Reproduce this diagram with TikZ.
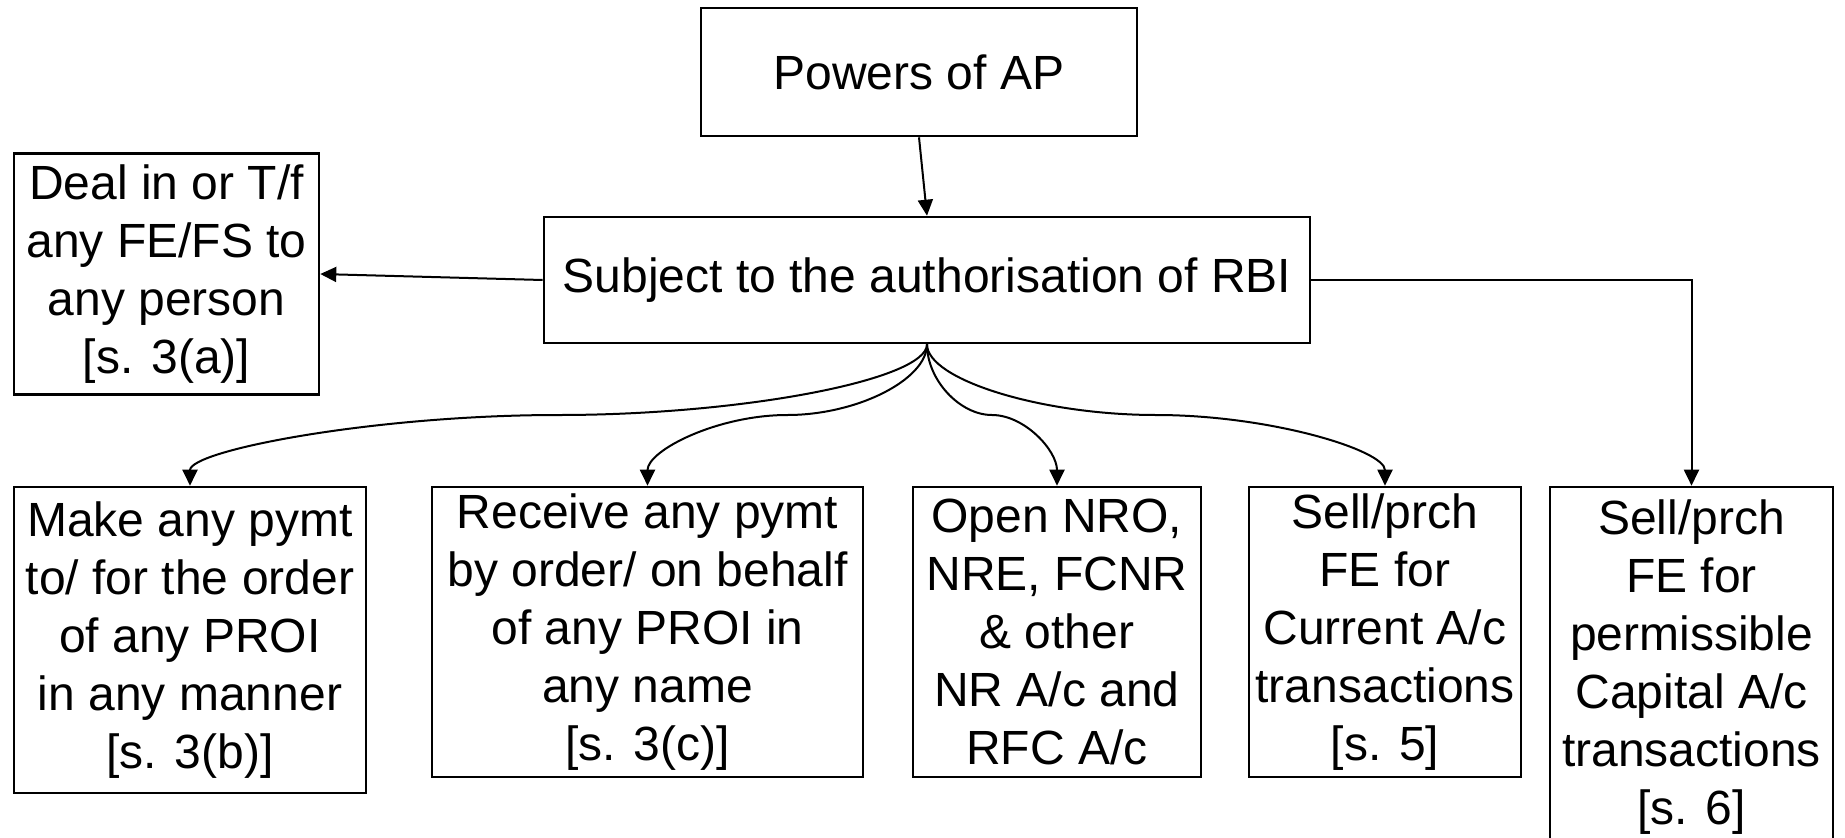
\documentclass[tikz,border=0pt]{standalone}
\usepackage{fontspec}
\setmainfont{Liberation Sans}
\usetikzlibrary{arrows.meta,calc}
\tikzset{
  box/.style={draw=black, line width=2.6pt, fill=white, align=center, inner sep=0pt,
    font=\fontsize{48}{58}\selectfont},
  arr/.style={line width=2pt, -{Triangle[length=16pt,width=15pt]}},
}
\newcommand{\pwcurve}[2]{%
  \draw[arr] let \p1=(#1.south), \p2=(#2.north), \n1={(\y1+\y2)/2} in
    (\p1) .. controls (\x1,{\y1+(\y2-\y1)/4}) and ({\x1+(\x2-\x1)/4},\n1) ..
    ({(\x1+\x2)/2},\n1) .. controls ({\x1+3*(\x2-\x1)/4},\n1) and (\x2,{\y1+3*(\y2-\y1)/4}) .. (\p2);}
\begin{document}
\begin{tikzpicture}[x=1pt,y=-1pt]
\clip (0,0) rectangle (1845,838);
\fill[white] (0,0) rectangle (1845,838);
\node[box, minimum width=436pt, minimum height=128pt] (pow) at (919,72) {Powers of AP};
\node[box, minimum width=766pt, minimum height=126pt] (sub) at (927,280) {Subject to the authorisation of RBI};
\node[box, minimum width=305pt, minimum height=241pt] (deal) at (166.5,274) {Deal in or T/f\\any FE/FS to\\any person\\{[s. 3(a)]}};
\node[box, minimum width=352pt, minimum height=306pt] (make) at (190,640) {Make any pymt\\to/ for the order\\of any PROI\\in any manner\\{[s. 3(b)]}};
\node[box, minimum width=431pt, minimum height=290pt] (rec) at (647.5,632) {Receive any pymt\\by order/ on behalf\\of any PROI in\\any name\\{[s. 3(c)]}};
\node[box, minimum width=288pt, minimum height=290pt] (open) at (1057,632) {Open NRO,\\NRE, FCNR\\\& other\\NR A/c and\\RFC A/c};
\node[box, minimum width=272pt, minimum height=290pt] (cur) at (1385,632) {Sell/prch\\FE for\\Current A/c\\transactions\\{[s. 5]}};
\node[box, minimum width=283pt, minimum height=360pt] (cap) at (1691.5,667) {Sell/prch\\FE for\\permissible\\Capital A/c\\transactions\\{[s. 6]}};
\draw[arr] (pow.south) -- (sub.north);
\draw[arr] (sub.west) -- (deal.east);
\draw[arr] (sub.east) -| (cap.north);
\pwcurve{sub}{make}
\pwcurve{sub}{rec}
\pwcurve{sub}{open}
\pwcurve{sub}{cur}
\end{tikzpicture}
\end{document}
